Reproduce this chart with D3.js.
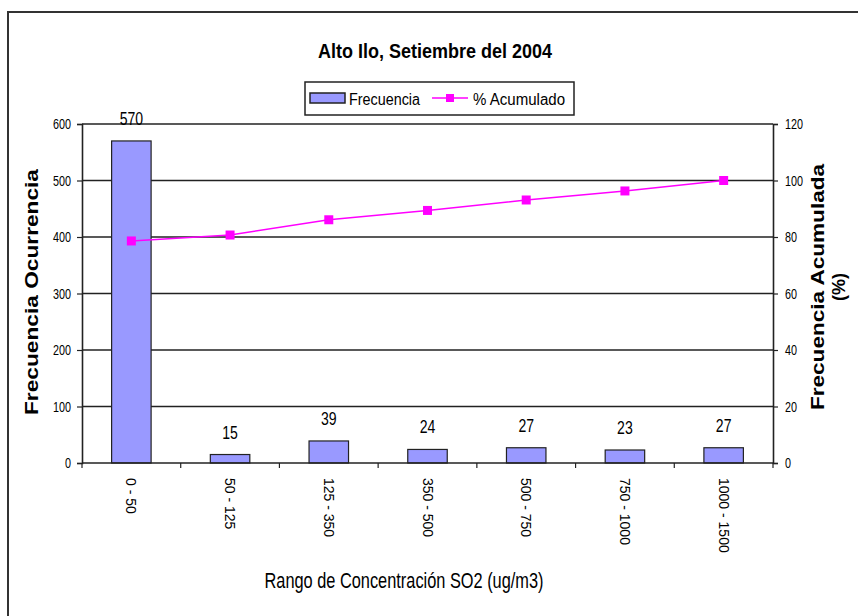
<!DOCTYPE html>
<html>
<head>
<meta charset="utf-8">
<script src="https://cdn.jsdelivr.net/npm/d3@7"></script>
<style>
  body { margin: 0; background: #fff; }
  svg text { fill: #000; font-family: "Liberation Sans", Arial, sans-serif; }
</style>
</head>
<body>
<div id="chart"></div>
<script>
// ---- datos ----
const categorias = ['0 - 50', '50 - 125', '125 - 350', '350 - 500', '500 - 750', '750 - 1000', '1000 - 1500'];
const frecuencia = [570, 15, 39, 24, 27, 23, 27];
const acumulado  = [78.6, 80.7, 86.1, 89.4, 93.1, 96.3, 100];
const ticksIzq = [0, 100, 200, 300, 400, 500, 600];
const ticksDer = [0, 20, 40, 60, 80, 100, 120];

const COLORS = {
  bar: '#9999FF',
  line: '#FF00FF',
  grid: '#222222'
};

const W = 858, H = 616;
const plot = {left: 82, right: 773, top: 124, bottom: 463};

// estrecha el texto (imita Arial Narrow)
function condense(sel, k) {
  sel.each(function() {
    const len = this.getComputedTextLength();
    d3.select(this).attr('textLength', len * k).attr('lengthAdjust', 'spacingAndGlyphs');
  });
}

const svg = d3.select('#chart').append('svg')
  .attr('width', W).attr('height', H);

// marco exterior
svg.append('rect')
  .attr('x', 8).attr('y', 12)
  .attr('width', 870).attr('height', 640)
  .attr('fill', 'none')
  .attr('stroke', '#333').attr('stroke-width', 2);

// escalas
const x = d3.scaleBand().domain(categorias).range([plot.left, plot.right]).paddingInner(0).paddingOuter(0);
const yL = d3.scaleLinear().domain([0, 600]).range([plot.bottom, plot.top]);
const yR = d3.scaleLinear().domain([0, 120]).range([plot.bottom, plot.top]);

// rejilla
svg.append('g').selectAll('line')
  .data(ticksIzq.filter(d => d > 0))
  .join('line')
    .attr('x1', plot.left).attr('x2', plot.right)
    .attr('y1', d => yL(d)).attr('y2', d => yL(d))
    .attr('stroke', COLORS.grid).attr('stroke-width', 1.6);

// barras
const bw = x.bandwidth() * 0.4;
svg.append('g').selectAll('rect')
  .data(frecuencia)
  .join('rect')
    .attr('x', (d, i) => x(categorias[i]) + x.bandwidth() / 2 - bw / 2)
    .attr('y', d => yL(d))
    .attr('width', bw)
    .attr('height', d => yL(0) - yL(d))
    .attr('fill', COLORS.bar)
    .attr('stroke', '#222').attr('stroke-width', 1.2);

// etiquetas de datos
svg.append('g').selectAll('text')
  .data(frecuencia)
  .join('text')
    .attr('x', (d, i) => x(categorias[i]) + x.bandwidth() / 2)
    .attr('y', d => yL(d) - 16)
    .attr('text-anchor', 'middle')
    .style('font-size', '18px')
    .text(d => d)
    .call(condense, 0.78);

// ejes
const axL = svg.append('g')
  .attr('transform', `translate(${plot.left},0)`)
  .call(d3.axisLeft(yL).tickValues(ticksIzq).tickSize(5).tickPadding(6));
const axR = svg.append('g')
  .attr('transform', `translate(${plot.right},0)`)
  .call(d3.axisRight(yR).tickValues(ticksDer).tickSize(5).tickPadding(7));
const axB = svg.append('g')
  .attr('transform', `translate(0,${plot.bottom})`)
  .call(d3.axisBottom(x).tickSize(0).tickFormat(''));

[axL, axR, axB].forEach(ax => {
  ax.select('.domain').attr('stroke', '#222').attr('stroke-width', 1.6);
  ax.selectAll('.tick line').attr('stroke', '#222').attr('stroke-width', 1.2);
});
axL.selectAll('.tick text').style('font-family', '"Liberation Sans", Arial, sans-serif').style('font-size', '15px').call(condense, 0.72);
axR.selectAll('.tick text').style('font-family', '"Liberation Sans", Arial, sans-serif').style('font-size', '15px').call(condense, 0.72);
axB.select('.domain').attr('d', `M${plot.left},0H${plot.right}`);

// marcas del eje x en los limites de cada categoria
svg.append('g').selectAll('line')
  .data(d3.range(categorias.length + 1))
  .join('line')
    .attr('x1', i => plot.left + i * x.bandwidth())
    .attr('x2', i => plot.left + i * x.bandwidth())
    .attr('y1', plot.bottom).attr('y2', plot.bottom + 5)
    .attr('stroke', '#222').attr('stroke-width', 1.2);

// etiquetas de categoria (verticales)
svg.append('g').selectAll('text')
  .data(categorias)
  .join('text')
    .attr('transform', d => `translate(${x(d) + x.bandwidth() / 2 - 5},478) rotate(90)`)
    .style('font-size', '14px')
    .text(d => d);

// linea % acumulado
const linea = d3.line()
  .x((d, i) => x(categorias[i]) + x.bandwidth() / 2)
  .y(d => yR(d));
svg.append('path')
  .datum(acumulado)
  .attr('d', linea)
  .attr('fill', 'none')
  .attr('stroke', COLORS.line).attr('stroke-width', 1.5);
svg.append('g').selectAll('rect')
  .data(acumulado)
  .join('rect')
    .attr('x', (d, i) => x(categorias[i]) + x.bandwidth() / 2 - 4.5)
    .attr('y', d => yR(d) - 4.5)
    .attr('width', 9).attr('height', 9)
    .attr('fill', COLORS.line);

// titulo
svg.append('text')
  .attr('x', 435).attr('y', 58)
  .attr('text-anchor', 'middle')
  .style('font-size', '21px').style('font-weight', 'bold')
  .text('Alto Ilo, Setiembre del 2004')
  .attr('textLength', 234).attr('lengthAdjust', 'spacingAndGlyphs');

// titulos de ejes
svg.append('text')
  .attr('transform', `translate(38,292) rotate(-90)`)
  .attr('text-anchor', 'middle')
  .style('font-size', '18px').style('font-weight', 'bold')
  .text('Frecuencia Ocurrencia')
  .attr('textLength', 246).attr('lengthAdjust', 'spacingAndGlyphs');
svg.append('text')
  .attr('transform', `translate(824,287) rotate(-90)`)
  .attr('text-anchor', 'middle')
  .style('font-size', '18px').style('font-weight', 'bold')
  .text('Frecuencia Acumulada')
  .attr('textLength', 246).attr('lengthAdjust', 'spacingAndGlyphs');
svg.append('text')
  .attr('transform', `translate(845,287) rotate(-90)`)
  .attr('text-anchor', 'middle')
  .style('font-size', '18px').style('font-weight', 'bold')
  .text('(%)');
svg.append('text')
  .attr('x', 404).attr('y', 588)
  .attr('text-anchor', 'middle')
  .style('font-size', '22px')
  .text('Rango de Concentración SO2 (ug/m3)')
  .attr('textLength', 279).attr('lengthAdjust', 'spacingAndGlyphs');

// leyenda
const leg = svg.append('g');
leg.append('rect')
  .attr('x', 305).attr('y', 82).attr('width', 269).attr('height', 33)
  .attr('fill', '#fff').attr('stroke', '#222').attr('stroke-width', 1.5);
leg.append('rect')
  .attr('x', 310).attr('y', 93).attr('width', 35).attr('height', 10)
  .attr('fill', COLORS.bar).attr('stroke', '#222').attr('stroke-width', 1.5);
leg.append('text')
  .attr('x', 349).attr('y', 105)
  .style('font-size', '16px')
  .text('Frecuencia')
  .attr('textLength', 71).attr('lengthAdjust', 'spacingAndGlyphs');
leg.append('line')
  .attr('x1', 432).attr('x2', 468).attr('y1', 98).attr('y2', 98)
  .attr('stroke', COLORS.line).attr('stroke-width', 1.5);
leg.append('rect')
  .attr('x', 446).attr('y', 94).attr('width', 8).attr('height', 8)
  .attr('fill', COLORS.line);
leg.append('text')
  .attr('x', 473).attr('y', 105)
  .style('font-size', '16px')
  .text('% Acumulado')
  .attr('textLength', 92).attr('lengthAdjust', 'spacingAndGlyphs');
</script>
</body>
</html>
